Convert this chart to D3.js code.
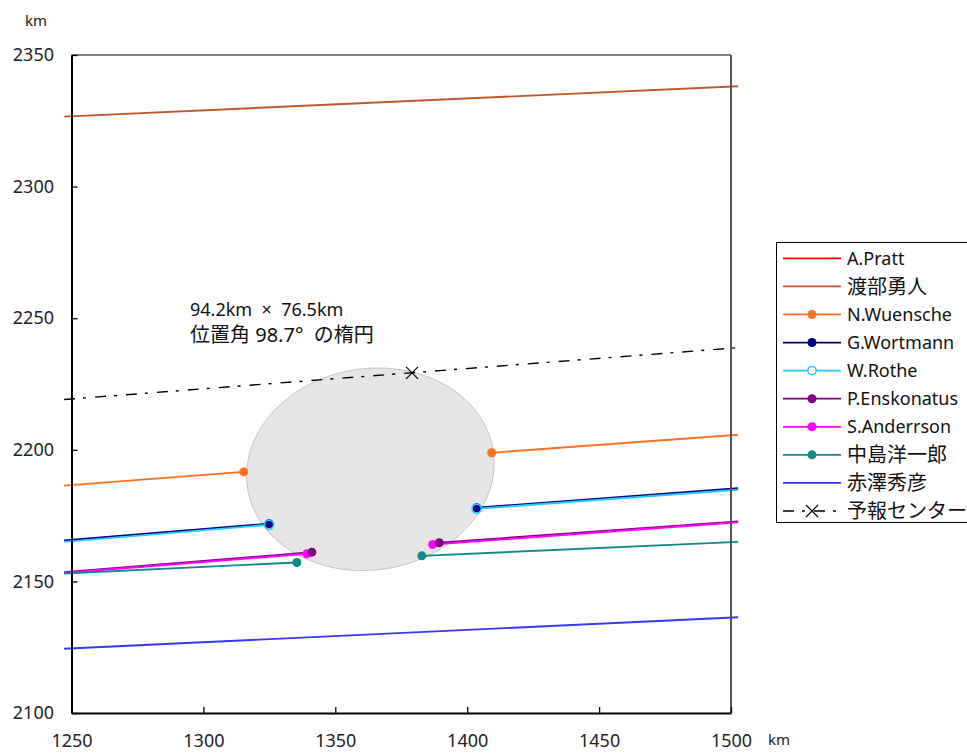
<!DOCTYPE html>
<html>
<head>
<meta charset="utf-8">
<script src="https://cdn.jsdelivr.net/npm/d3@7"></script>
<style>
  html, body { margin: 0; padding: 0; background: #fff; }
  svg { display: block; font-family: "Noto Sans", "Noto Sans CJK JP", sans-serif; }
  .note { white-space: pre; }
</style>
</head>
<body>
<svg id="chart" width="967" height="755"></svg>
<script>
// Observers (legend order)
const observers = ["A.Pratt", "渡部勇人", "N.Wuensche", "G.Wortmann", "W.Rothe",
                   "P.Enskonatus", "S.Anderrson", "中島洋一郎", "赤澤秀彦", "予報センター"];
const colors = ["#ff0000", "#bf5a28", "#ff7020", "#000080", "#22ccff",
                "#800080", "#ff00ff", "#108a8a", "#3636ff", "#000000"];

// Track end points (km): every track runs from trackX[0] to trackX[1]
const trackX = [1247.2, 1502.7];
const trackStartY = [null, 2326.6, 2186.4, 2165.6, 2165.0, 2153.5, 2153.2, 2153.0, 2124.4, 2219.1];
const trackEndY   = [null, 2338.1, 2205.7, 2185.4, 2184.8, 2172.8, 2172.5, 2165.0, 2136.4, 2238.8];

// Disappearance / reappearance points (km); null = no event
const disappearX = [null, null, 1315.3, 1324.9, 1324.9, 1341.1, 1339.2, 1335.4, null, null];
const disappearY = [null, null, 2191.6, 2171.9, 2171.5, 2161.1, 2160.5, 2157.2, null, null];
const reappearX  = [null, null, 1409.3, 1403.6, 1403.6, 1389.4, 1386.9, 1382.8, null, null];
const reappearY  = [null, null, 2198.9, 2178.0, 2177.6, 2164.7, 2164.0, 2159.7, null, null];

// Predicted centre on the forecast track
const predictedX = 1379.1;
const predictedY = 2229.2;

// Fitted outline: axes in km, position angle in degrees
const ellipseCenter = [1363.3, 2192.6];
const ellipseAxes = [94.2, 76.5];
const positionAngle = 98.7;

const xTicks = [1250, 1300, 1350, 1400, 1450, 1500];
const yTicks = [2100, 2150, 2200, 2250, 2300, 2350];
const noteLines = ["94.2km  ×  76.5km", "位置角 98.7°  の楕円"];

// ---- layout ----
const svg = d3.select("#chart");
const plot = { left: 71.5, right: 731, top: 55, bottom: 713 };
const x = d3.scaleLinear().domain([1250, 1500]).range([plot.left, plot.right]);
const y = d3.scaleLinear().domain([2100, 2350]).range([plot.bottom, plot.top]);
const line = d3.line().x(d => x(d[0])).y(d => y(d[1]));

// outline of the fitted ellipse
const tilt = (positionAngle - 90) * Math.PI / 180;
const a = ellipseAxes[0] / 2, b = ellipseAxes[1] / 2;
const ellipsePts = d3.range(0, 360, 2).map(deg => {
  const t = deg * Math.PI / 180;
  const u = a * Math.cos(t), v = b * Math.sin(t);
  return [ellipseCenter[0] + u * Math.cos(tilt) - v * Math.sin(tilt),
          ellipseCenter[1] + u * Math.sin(tilt) + v * Math.cos(tilt)];
});
svg.append("path")
  .attr("d", line(ellipsePts) + "Z")
  .attr("fill", "#e6e6e6")
  .attr("stroke", "#c4c4c4")
  .attr("stroke-width", 1);

// tracks
const dashPattern = "11,8,3,9";
const tracks = svg.append("g");
observers.forEach((name, i) => {
  if (trackStartY[i] == null) return;
  let segments;
  if (disappearX[i] != null) {
    segments = [
      [[trackX[0], trackStartY[i]], [disappearX[i], disappearY[i]]],
      [[reappearX[i], reappearY[i]], [trackX[1], trackEndY[i]]]
    ];
  } else {
    segments = [[[trackX[0], trackStartY[i]], [trackX[1], trackEndY[i]]]];
  }
  segments.forEach(seg => {
    tracks.append("path")
      .attr("d", line(seg))
      .attr("fill", "none")
      .attr("stroke", colors[i])
      .attr("stroke-width", i === 9 ? 1.4 : 1.9)
      .attr("stroke-dasharray", i === 9 ? dashPattern : null);
  });
});

// event markers (drawn back to front so the filled dots sit above open rings)
const markers = svg.append("g");
function drawMarker(g, cx, cy, i) {
  if (i === 4) {
    g.append("circle").attr("cx", cx).attr("cy", cy).attr("r", 4.6)
      .attr("fill", "none").attr("stroke", colors[i]).attr("stroke-width", 1.5);
  } else {
    g.append("circle").attr("cx", cx).attr("cy", cy).attr("r", 4.5)
      .attr("fill", colors[i]);
  }
}
[7, 6, 5, 3, 4, 2].forEach(i => {
  drawMarker(markers, x(disappearX[i]), y(disappearY[i]), i);
  drawMarker(markers, x(reappearX[i]), y(reappearY[i]), i);
});

// predicted centre cross
function drawCross(g, cx, cy) {
  const s = 6;
  g.append("path")
    .attr("d", `M${cx - s},${cy - s}L${cx + s},${cy + s}M${cx - s},${cy + s}L${cx + s},${cy - s}`)
    .attr("stroke", "#000").attr("stroke-width", 1.2).attr("fill", "none");
}
drawCross(markers, x(predictedX), y(predictedY));

// ---- frame and axes ----
const frame = svg.append("g");
frame.append("line").attr("x1", plot.left).attr("x2", plot.right)
  .attr("y1", plot.top).attr("y2", plot.top).attr("stroke", "#000").attr("stroke-width", 1);
frame.append("line").attr("x1", plot.right).attr("x2", plot.right)
  .attr("y1", plot.top).attr("y2", plot.bottom).attr("stroke", "#555").attr("stroke-width", 2);

const yAxis = d3.axisLeft(y).tickValues(yTicks).tickFormat(d3.format("d"))
  .tickSizeInner(-6).tickSizeOuter(0).tickPadding(17.5);
const xAxis = d3.axisBottom(x).tickValues(xTicks).tickFormat(d3.format("d"))
  .tickSizeInner(-6).tickSizeOuter(0).tickPadding(21.7);

const gy = svg.append("g").attr("transform", `translate(${plot.left},0)`).call(yAxis);
const gx = svg.append("g").attr("transform", `translate(0,${plot.bottom})`).call(xAxis);
[gx, gy].forEach(g => {
  g.select(".domain").attr("stroke", "#000").attr("stroke-width", 2);
  g.selectAll(".tick line").attr("stroke", "#000").attr("stroke-width", 1.3);
  g.selectAll(".tick text")
    .attr("font-size", 18)
    .attr("font-family", "'Noto Sans', sans-serif")
    .attr("fill", "#222");
});

// unit labels
svg.append("text").attr("x", 25).attr("y", 26).attr("font-size", 15).attr("fill", "#222").text("km");
svg.append("text").attr("x", 768).attr("y", 745).attr("font-size", 15).attr("fill", "#222").text("km");

// annotation
svg.append("text").attr("class", "note").attr("x", 190).attr("y", 316)
  .attr("font-size", 18).attr("fill", "#111").text(noteLines[0]);
svg.append("text").attr("class", "note").attr("x", 190).attr("y", 342)
  .attr("font-size", 20).attr("fill", "#111").text(noteLines[1]);

// ---- legend ----
const legend = svg.append("g");
legend.append("rect")
  .attr("x", 776.5).attr("y", 242.5).attr("width", 200).attr("height", 280)
  .attr("fill", "#fff").attr("stroke", "#000").attr("stroke-width", 1);
const isCJK = s => /[\u3040-\u30ff\u4e00-\u9fff]/.test(s);
observers.forEach((name, i) => {
  const cy = 258.3 + i * 28.08;
  legend.append("line")
    .attr("x1", 783).attr("x2", 841).attr("y1", cy).attr("y2", cy)
    .attr("stroke", colors[i]).attr("stroke-width", i === 9 ? 1.4 : 1.8)
    .attr("stroke-dasharray", i === 9 ? "11,8,3,9" : null);
  if (disappearX[i] != null) {
    if (i === 4) {
      legend.append("circle").attr("cx", 812).attr("cy", cy).attr("r", 4.2)
        .attr("fill", "#fff").attr("stroke", colors[i]).attr("stroke-width", 1.5);
    } else {
      legend.append("circle").attr("cx", 812).attr("cy", cy).attr("r", 4.5).attr("fill", colors[i]);
    }
  }
  if (i === 9) drawCross(legend, 812, cy);
  legend.append("text")
    .attr("x", 847).attr("y", cy).attr("dy", "0.36em")
    .attr("font-size", isCJK(name) ? 20 : 18)
    .attr("fill", "#111")
    .text(name);
});
</script>
</body>
</html>
